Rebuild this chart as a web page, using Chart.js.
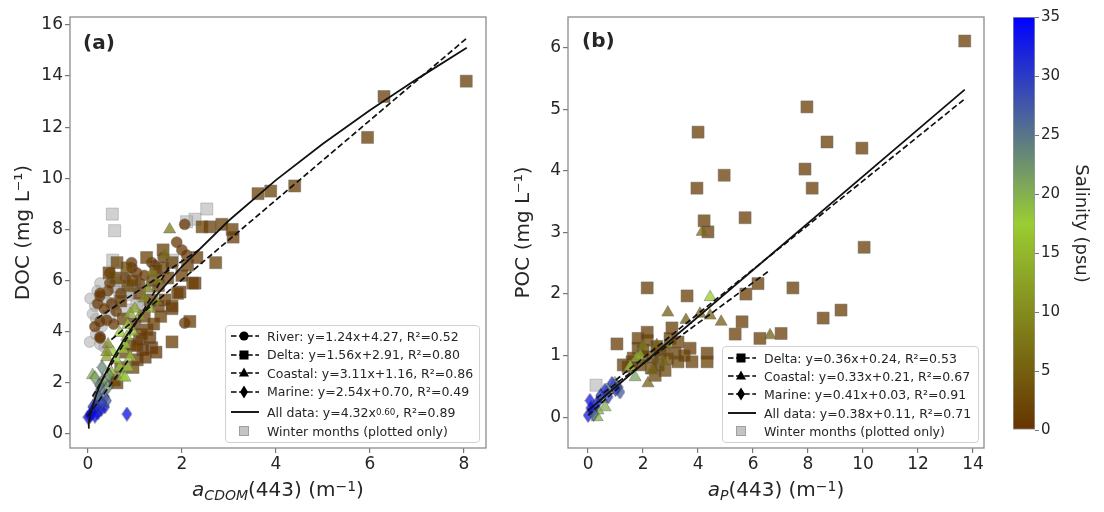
<!DOCTYPE html>
<html>
<head>
<meta charset="utf-8">
<script src="https://cdn.jsdelivr.net/npm/chart.js@4.4.1/dist/chart.umd.min.js"></script>
<style>
  body { margin: 0; background: #fff; }
  #wrap { position: relative; width: 1104px; height: 512px; font-family: "DejaVu Sans", sans-serif; color: #262626; overflow: hidden; }
  #wrap canvas { position: absolute; top: 0; }
  .tag { position: absolute; font-weight: bold; font-size: 20px; line-height: 20px; }
  .xtitle { position: absolute; top: 477px; font-size: 20px; line-height: 24px; text-align: center; white-space: nowrap; }
  .xtitle sub { font-size: 14px; vertical-align: -4px; line-height: 0; }
  .xtitle sup, .legend sup { font-size: 70%; vertical-align: 5px; line-height: 0; }
  .legend { position: absolute; border: 1px solid #d2d2d2; border-radius: 4px; background: rgba(255,255,255,.85); font-size: 12.5px; box-sizing: border-box; }
  .legend .row { position: absolute; left: 4px; height: 18px; display: flex; align-items: center; white-space: nowrap; }
  .legend svg { width: 30px; height: 18px; margin-right: 7px; flex: none; }
</style>
</head>
<body>
<div id="wrap">
  <canvas id="chartA" width="500" height="512" style="left:0"></canvas>
  <canvas id="chartB" width="500" height="512" style="left:500px"></canvas>
  <canvas id="chartC" width="104" height="512" style="left:1000px"></canvas>

  <div class="tag" style="left:83px;top:32px">(a)</div>
  <div class="tag" style="left:582px;top:30px">(b)</div>

  <div class="xtitle" style="left:70px;width:416px"><i>a</i><sub><i>CDOM</i></sub>(443) (m<sup>−1</sup>)</div>
  <div class="xtitle" style="left:568px;width:416px"><i>a</i><sub><i>P</i></sub>(443) (m<sup>−1</sup>)</div>

  <div class="legend" style="left:225px;top:325px;width:255px;height:118px">
    <div class="row" style="top:1px"><svg viewBox="0 0 30 18"><line x1="1" y1="9" x2="29" y2="9" stroke="#000" stroke-width="1.6" stroke-dasharray="5.5 2.6"/><circle cx="14" cy="9" r="4.6"/></svg>River: y=1.24x+4.27, R²=0.52</div>
    <div class="row" style="top:19.5px"><svg viewBox="0 0 30 18"><line x1="1" y1="9" x2="29" y2="9" stroke="#000" stroke-width="1.6" stroke-dasharray="5.5 2.6"/><rect x="9.5" y="4.5" width="9" height="9"/></svg>Delta: y=1.56x+2.91, R²=0.80</div>
    <div class="row" style="top:38px"><svg viewBox="0 0 30 18"><line x1="1" y1="9" x2="29" y2="9" stroke="#000" stroke-width="1.6" stroke-dasharray="5.5 2.6"/><polygon points="14,3.5 19,12.5 9,12.5"/></svg>Coastal: y=3.11x+1.16, R²=0.86</div>
    <div class="row" style="top:56.5px"><svg viewBox="0 0 30 18"><line x1="1" y1="9" x2="29" y2="9" stroke="#000" stroke-width="1.6" stroke-dasharray="5.5 2.6"/><polygon points="14,2.5 18,9 14,15.5 10,9"/></svg>Marine: y=2.54x+0.70, R²=0.49</div>
    <div class="row" style="top:77px"><svg viewBox="0 0 30 18"><line x1="1" y1="9" x2="29" y2="9" stroke="#000" stroke-width="1.8"/></svg>All data: y=4.32x<sup>0.60</sup>, R²=0.89</div>
    <div class="row" style="top:96px"><svg viewBox="0 0 30 18"><rect x="9.5" y="4.5" width="9" height="9" fill="#c4c4c4" stroke="#a0a0a0" stroke-width="1"/></svg>Winter months (plotted only)</div>
  </div>

  <div class="legend" style="left:722px;top:346px;width:257px;height:97px">
    <div class="row" style="top:2px"><svg viewBox="0 0 30 18"><line x1="1" y1="9" x2="29" y2="9" stroke="#000" stroke-width="1.6" stroke-dasharray="5.5 2.6"/><rect x="9.5" y="4.5" width="9" height="9"/></svg>Delta: y=0.36x+0.24, R²=0.53</div>
    <div class="row" style="top:20px"><svg viewBox="0 0 30 18"><line x1="1" y1="9" x2="29" y2="9" stroke="#000" stroke-width="1.6" stroke-dasharray="5.5 2.6"/><polygon points="14,3.5 19,12.5 9,12.5"/></svg>Coastal: y=0.33x+0.21, R²=0.67</div>
    <div class="row" style="top:38px"><svg viewBox="0 0 30 18"><line x1="1" y1="9" x2="29" y2="9" stroke="#000" stroke-width="1.6" stroke-dasharray="5.5 2.6"/><polygon points="14,2.5 18,9 14,15.5 10,9"/></svg>Marine: y=0.41x+0.03, R²=0.91</div>
    <div class="row" style="top:57px"><svg viewBox="0 0 30 18"><line x1="1" y1="9" x2="29" y2="9" stroke="#000" stroke-width="1.8"/></svg>All data: y=0.38x+0.11, R²=0.71</div>
    <div class="row" style="top:75px"><svg viewBox="0 0 30 18"><rect x="9.5" y="4.5" width="9" height="9" fill="#c4c4c4" stroke="#a0a0a0" stroke-width="1"/></svg>Winter months (plotted only)</div>
  </div>
</div>

<script>
// ---- axis ticks ----
const ticksXA = [0, 2, 4, 6, 8];
const ticksYA = [0, 2, 4, 6, 8, 10, 12, 14, 16];
const ticksXB = [0, 2, 4, 6, 8, 10, 12, 14];
const ticksYB = [0, 1, 2, 3, 4, 5, 6];
const ticksSal = [0, 5, 10, 15, 20, 25, 30, 35];

// ---- salinity colour map ----
const salStops = [0, 17.5, 35];
const salColors = [[102, 51, 0], [154, 205, 50], [0, 0, 255]];

// ---- panel (a): DOC vs aCDOM(443) ----
const riverAX = [2.06, 1.89, 2.0, 2.1, 0.93, 1.04, 0.94, 1.36, 1.42, 0.26, 0.21, 0.43, 0.51, 0.40, 0.26, 2.06, 0.47, 0.47, 0.26, 0.26, 0.26, 0.35, 0.6, 0.7, 1.1, 1.2, 1.6, 0.55, 0.8, 0.15];
const riverAY = [8.2, 7.5, 7.2, 7.0, 6.7, 6.3, 6.5, 6.7, 6.6, 5.4, 5.1, 5.6, 5.1, 4.45, 3.8, 4.34, 6.3, 5.9, 5.5, 4.4, 3.75, 4.9, 4.8, 5.5, 5.9, 6.2, 6.9, 4.3, 6.1, 4.2];
const riverAS = [0.3, 0.3, 0.3, 0.5, 0.2, 0.3, 0.3, 0.4, 0.3, 0.2, 0.2, 0.3, 0.3, 0.3, 0.2, 0.5, 0.3, 0.2, 0.2, 0.2, 0.2, 0.3, 0.5, 0.4, 0.4, 0.4, 0.5, 0.3, 0.3, 0.2];

const deltaAX = [8.05, 6.30, 5.95, 4.40, 3.89, 3.62, 3.07, 3.09, 2.85, 2.60, 2.43, 2.72, 2.28, 1.96, 1.79, 1.79, 2.17, 1.36, 1.17, 1.10, 1.32, 1.26, 1.00, 0.96, 0.62, 0.57, 1.91, 1.79, 1.64, 1.60, 1.79, 1.60, 2.12, 2.32, 2.23, 1.32, 1.10, 1.38, 1.50, 1.20, 1.40, 0.80, 0.90, 1.05, 0.70, 1.45, 1.70, 0.85, 0.60, 0.62, 0.75, 1.15, 1.50, 2.00, 1.25, 0.95, 0.83, 0.70, 1.55, 0.45, 1.22, 1.45, 1.05];
const deltaAY = [13.8, 13.2, 11.6, 9.7, 9.5, 9.4, 8.0, 7.7, 8.2, 8.1, 8.1, 6.7, 5.9, 5.55, 4.9, 3.6, 4.4, 3.37, 3.3, 3.7, 3.76, 4.07, 4.3, 2.6, 2.0, 2.1, 5.5, 5.0, 5.24, 7.2, 6.7, 6.5, 6.6, 6.9, 5.9, 5.24, 5.5, 6.0, 5.8, 4.6, 4.3, 3.2, 3.5, 2.9, 2.6, 6.4, 6.1, 5.8, 6.1, 6.7, 4.5, 3.9, 5.0, 6.2, 6.9, 6.0, 6.5, 5.2, 4.6, 6.3, 3.0, 3.2, 3.45];
const deltaAS = [1, 1, 1, 1, 1.5, 1.5, 1, 1, 1, 1, 1.5, 1.5, 0.5, 0.5, 1, 1, 1, 0.5, 0.5, 0.5, 0.5, 1, 1, 2, 1.5, 2, 1, 1, 1, 1.5, 1.5, 1.5, 1, 1, 1, 1, 1, 2, 2, 1.5, 1, 2, 1.5, 1, 2, 1, 1, 2, 2, 2, 1.5, 1, 1, 1, 1.5, 1.5, 2, 1.5, 1, 1.5, 0.5, 0.5, 1];

const coastalAX = [1.74, 1.64, 1.36, 1.26, 1.32, 0.9, 0.68, 0.85, 0.74, 0.43, 0.68, 0.74, 0.10, 0.40, 0.79, 0.83, 0.53, 0.85, 0.79, 1.1, 0.40, 1.5, 1.2, 1.0, 0.6, 0.9, 1.45, 0.5, 0.3, 0.95];
const coastalAY = [8.0, 7.0, 6.3, 5.7, 4.9, 4.7, 3.95, 4.26, 3.3, 3.5, 2.6, 2.23, 2.3, 3.0, 3.5, 3.8, 3.2, 2.6, 2.2, 4.6, 3.2, 6.0, 5.3, 4.9, 2.9, 3.0, 5.2, 2.4, 2.0, 4.0];
const coastalAS = [8, 7, 8, 10, 14, 15, 17, 16, 17, 10, 18, 18, 20, 12, 17, 17, 17, 18, 17, 12, 10, 8, 10, 13, 16, 16, 9, 15, 18, 15];

const marineAX = [0.15, 0.30, 0.32, 0.43, 0.26, 0.36, 0.21, 0.10, 0.08, 0.0, 0.21, 0.36, 0.83, 0.05, 0.12, 0.28, 0.18, 0.40, 0.25, 0.05, 0.15, 0.45, 0.20, 0.30];
const marineAY = [2.2, 2.6, 2.1, 1.85, 1.72, 1.45, 1.33, 1.06, 0.82, 0.66, 0.82, 1.06, 0.78, 0.7, 0.95, 0.95, 1.1, 1.3, 1.9, 0.75, 0.7, 2.3, 1.5, 1.2];
const marineAS = [21, 23, 22, 23, 25, 26, 27, 32, 33, 34, 34, 33, 34, 34, 33, 33, 31, 27, 24, 35, 34, 22, 25, 29];

const winterCircAX = [0.04, 0.26, 0.15, 0.17, 0.17, 0.26, 0.10, 0.30, 0.05, 0.20, 0.35, 0.40];
const winterCircAY = [3.6, 5.9, 5.0, 4.5, 3.9, 3.5, 4.7, 4.2, 5.3, 5.6, 3.4, 5.2];
const winterSqAX = [0.52, 0.57, 2.53, 2.28, 2.10, 0.53, 0.60, 0.90, 1.04, 0.68, 0.53, 0.83, 1.38, 1.17, 0.55, 0.83, 1.80, 0.70, 1.00, 0.45];
const winterSqAY = [8.6, 7.95, 8.8, 8.4, 8.3, 6.8, 5.75, 5.55, 5.1, 5.35, 5.1, 4.85, 5.75, 5.1, 5.9, 5.45, 6.8, 6.0, 5.8, 4.6];

// fitted lines (a), end points
const fitRiverAX = [0.2, 2.4], fitRiverAY = [4.52, 7.25];
const fitDeltaAX = [0.5, 8.06], fitDeltaAY = [3.69, 15.48];
const fitCoastalAX = [0.1, 1.75], fitCoastalAY = [1.47, 6.6];
const fitMarineAX = [0.0, 0.85], fitMarineAY = [0.7, 2.86];
const fitAllAX = [0.008, 0.02, 0.05, 0.1, 0.2, 0.3, 0.5, 0.75, 1, 1.5, 2, 3, 4, 5, 6, 7, 8.06];
const fitAllAY = [0.24, 0.41, 0.72, 1.09, 1.65, 2.1, 2.85, 3.64, 4.32, 5.51, 6.55, 8.35, 9.93, 11.35, 12.66, 13.88, 15.11];

// ---- panel (b): POC vs aP(443) ----
const deltaBX = [13.7, 7.96, 4.0, 8.69, 9.96, 7.89, 4.95, 3.96, 8.15, 5.71, 4.22, 4.36, 10.04, 2.15, 3.6, 5.74, 6.18, 7.45, 8.55, 9.2, 5.6, 5.35, 6.25, 7.02, 3.71, 4.33, 4.33, 3.78, 3.05, 1.05, 2.15, 1.28, 1.6, 1.82, 1.96, 2.33, 2.62, 3.16, 3.27, 2.55, 2.8, 2.44, 2.0, 1.82, 2.15, 2.98, 3.27, 2.73, 1.64, 1.45, 2.9, 2.3, 3.5, 2.5, 1.9];
const deltaBY = [6.11, 5.04, 4.63, 4.47, 4.37, 4.03, 3.93, 3.72, 3.72, 3.24, 3.19, 3.01, 2.76, 2.1, 1.97, 2.0, 2.17, 2.1, 1.61, 1.74, 1.55, 1.35, 1.28, 1.36, 1.12, 1.04, 0.9, 0.9, 1.45, 1.19, 1.38, 0.85, 0.9, 1.12, 0.98, 0.98, 1.04, 1.04, 0.9, 0.85, 0.76, 0.68, 1.09, 1.28, 1.25, 1.28, 1.22, 1.09, 0.96, 0.82, 0.95, 0.8, 1.0, 1.15, 0.85];
const deltaBS = [1, 1, 1, 1, 1, 1, 1, 1, 1, 1, 1, 1, 1, 1, 1, 1, 1, 1, 1, 1, 1, 1, 1, 1, 1, 1, 1.5, 1.5, 1, 1, 1, 1.5, 1.5, 1.5, 2, 2, 1.5, 1.5, 2, 2, 2, 2, 1.5, 1.5, 1.5, 1.5, 1.5, 2, 1.5, 1.5, 2, 2, 1.5, 1.5, 1.5];

const coastalBX = [4.44, 2.9, 3.56, 4.07, 4.44, 4.84, 6.62, 2.18, 2.5, 4.15, 1.78, 1.53, 1.71, 0.98, 0.62, 0.36, 0.33, 0.73, 2.33, 2.73, 2.87, 1.9, 2.0, 0.5];
const coastalBY = [1.95, 1.7, 1.58, 1.68, 1.65, 1.55, 1.33, 0.55, 1.17, 3.01, 0.96, 0.82, 0.65, 0.55, 0.16, 0.11, 0.0, 0.44, 0.76, 0.9, 1.17, 1.0, 1.15, 0.3];
const coastalBS = [17, 5, 5, 5, 5, 5, 5, 5, 5, 6, 15, 17, 21, 20, 20, 20, 20, 19, 6, 6, 6, 14, 8, 19];

const marineBX = [0.07, 0.15, 0.0, 0.62, 0.87, 1.09, 1.16, 0.73, 0.33, 0.2, 0.45, 1.0, 0.1];
const marineBY = [0.27, 0.11, 0.03, 0.44, 0.55, 0.49, 0.41, 0.33, 0.23, 0.05, 0.35, 0.45, 0.15];
const marineBS = [33, 32, 33, 32, 31, 28, 27, 30, 33, 25, 31, 30, 34];

const winterSqBX = [0.29];
const winterSqBY = [0.52];

// fitted lines (b)
const fitDeltaBX = [1.0, 13.7], fitDeltaBY = [0.6, 5.17];
const fitCoastalBX = [0.3, 6.62], fitCoastalBY = [0.31, 2.39];
const fitMarineBX = [0.0, 1.2], fitMarineBY = [0.03, 0.52];
const fitAllBX = [0.0, 13.7], fitAllBY = [0.11, 5.32];

Chart.defaults.font.family = '"DejaVu Sans", sans-serif';
Chart.defaults.color = "#262626";

const EDGE = "rgba(105,105,105,0.6)";
const EDGE_MARINE = "rgba(40,40,70,0.7)";
const WINTER = "rgba(172,172,172,0.55)";

function salColor(s, a) {
  let i = 0;
  while (i < salStops.length - 2 && s > salStops[i + 1]) i++;
  const t = Math.min(1, Math.max(0, (s - salStops[i]) / (salStops[i + 1] - salStops[i])));
  const c = salColors[i].map((v, k) => Math.round(v + t * (salColors[i + 1][k] - v)));
  return `rgba(${c[0]},${c[1]},${c[2]},${a})`;
}

const diamondCache = {};
function diamond(color) {
  if (diamondCache[color]) return diamondCache[color];
  const c = document.createElement("canvas");
  c.width = 11;
  c.height = 15;
  const g = c.getContext("2d");
  g.beginPath();
  g.moveTo(5.5, 0.6);
  g.lineTo(10.2, 7.5);
  g.lineTo(5.5, 14.4);
  g.lineTo(0.8, 7.5);
  g.closePath();
  g.fillStyle = color;
  g.fill();
  g.strokeStyle = EDGE_MARINE;
  g.lineWidth = 0.8;
  g.stroke();
  diamondCache[color] = c;
  return c;
}

function pts(xs, ys) {
  return xs.map((x, i) => ({ x, y: ys[i] }));
}

function scatterSet(xs, ys, sal, style, radius) {
  const fill = sal ? sal.map((s) => salColor(s, 0.75)) : WINTER;
  return {
    data: pts(xs, ys),
    pointStyle: style === "diamond" ? sal.map((s) => diamond(salColor(s, 0.75))) : style,
    pointRadius: radius,
    backgroundColor: fill,
    borderColor: sal ? EDGE : "rgba(140,140,140,0.55)",
    borderWidth: 0.8,
  };
}

function fitSet(xs, ys, dashed) {
  return {
    data: pts(xs, ys),
    showLine: true,
    borderColor: "#111",
    borderWidth: dashed ? 1.7 : 1.8,
    borderDash: dashed ? [6, 3] : [],
    pointRadius: 0,
    fill: false,
  };
}

const framePlugin = {
  id: "frame",
  afterDraw(chart) {
    const { ctx, chartArea: a } = chart;
    ctx.save();
    ctx.strokeStyle = "#8c8c8c";
    ctx.lineWidth = 1.3;
    ctx.strokeRect(a.left, a.top, a.right - a.left, a.bottom - a.top);
    ctx.restore();
  },
};

function panelOptions(xr, yr, xt, yt, yTitle, yWidth, rightPad) {
  const tickFont = { size: 17 };
  const grid = { display: true, drawOnChartArea: false, drawTicks: true, tickLength: 5, color: "#777", lineWidth: 1.2 };
  return {
    responsive: false,
    animation: false,
    events: [],
    layout: { padding: { top: 17, right: rightPad, left: 0, bottom: 0 } },
    plugins: { legend: { display: false }, tooltip: { enabled: false } },
    scales: {
      x: {
        type: "linear",
        min: xr[0],
        max: xr[1],
        afterBuildTicks: (s) => { s.ticks = xt.map((v) => ({ value: v })); },
        afterFit: (s) => { s.height = 64; },
        ticks: { font: tickFont, padding: 1, color: "#262626" },
        grid,
        border: { display: false },
      },
      y: {
        type: "linear",
        min: yr[0],
        max: yr[1],
        afterBuildTicks: (s) => { s.ticks = yt.map((v) => ({ value: v })); },
        afterFit: (s) => { s.width = yWidth; },
        ticks: { font: tickFont, padding: 2, color: "#262626" },
        grid,
        border: { display: false },
        title: { display: true, text: yTitle, font: { size: 20 }, padding: { top: 12, bottom: 0 }, color: "#262626" },
      },
    },
  };
}

new Chart(document.getElementById("chartA"), {
  type: "scatter",
  data: {
    datasets: [
      fitSet(fitAllAX, fitAllAY, false),
      fitSet(fitRiverAX, fitRiverAY, true),
      fitSet(fitDeltaAX, fitDeltaAY, true),
      fitSet(fitCoastalAX, fitCoastalAY, true),
      fitSet(fitMarineAX, fitMarineAY, true),
      scatterSet(marineAX, marineAY, marineAS, "diamond", 7),
      scatterSet(coastalAX, coastalAY, coastalAS, "triangle", 7),
      scatterSet(deltaAX, deltaAY, deltaAS, "rect", 8.5),
      scatterSet(riverAX, riverAY, riverAS, "circle", 5.5),
      scatterSet(winterSqAX, winterSqAY, null, "rect", 8.5),
      scatterSet(winterCircAX, winterCircAY, null, "circle", 5.5),
    ],
  },
  options: panelOptions([-0.38, 8.47], [-0.55, 16.31], ticksXA, ticksYA, "DOC (mg L⁻¹)", 70, 14),
  plugins: [framePlugin],
});

new Chart(document.getElementById("chartB"), {
  type: "scatter",
  data: {
    datasets: [
      fitSet(fitAllBX, fitAllBY, false),
      fitSet(fitDeltaBX, fitDeltaBY, true),
      fitSet(fitCoastalBX, fitCoastalBY, true),
      fitSet(fitMarineBX, fitMarineBY, true),
      scatterSet(marineBX, marineBY, marineBS, "diamond", 7),
      scatterSet(coastalBX, coastalBY, coastalBS, "triangle", 7),
      scatterSet(deltaBX, deltaBY, deltaBS, "rect", 8.5),
      scatterSet(winterSqBX, winterSqBY, null, "rect", 8.5),
    ],
  },
  options: panelOptions([-0.73, 14.4], [-0.5, 6.5], ticksXB, ticksYB, "POC (mg L⁻¹)", 68, 16),
  plugins: [framePlugin],
});

// colour bar
new Chart(document.getElementById("chartC"), {
  type: "bar",
  data: {
    labels: ["salinity"],
    datasets: [{
      data: [[ticksSal[0], ticksSal[ticksSal.length - 1]]],
      backgroundColor: (ctx) => {
        const area = ctx.chart.chartArea;
        if (!area) return "#888";
        const g = ctx.chart.ctx.createLinearGradient(0, area.bottom, 0, area.top);
        const top = salStops[salStops.length - 1];
        salStops.forEach((s) => g.addColorStop(s / top, salColor(s, 1)));
        return g;
      },
      borderColor: "#9a9a9a",
      borderWidth: 1,
      borderSkipped: false,
      barPercentage: 1,
      categoryPercentage: 1,
    }],
  },
  options: {
    responsive: false,
    animation: false,
    events: [],
    layout: { padding: { top: 17, left: 13, right: 0, bottom: 82 } },
    plugins: { legend: { display: false }, tooltip: { enabled: false } },
    scales: {
      x: { display: false },
      y: {
        position: "right",
        min: 0,
        max: 35,
        afterBuildTicks: (s) => { s.ticks = ticksSal.map((v) => ({ value: v })); },
        afterFit: (s) => { s.width = 69; },
        ticks: { font: { size: 15 }, padding: 2, color: "#262626" },
        grid: { display: true, drawOnChartArea: false, tickLength: 4, color: "#777" },
        border: { display: false },
        title: { display: true, text: "Salinity (psu)", font: { size: 18 }, padding: { top: 13, bottom: 0 }, color: "#262626" },
      },
    },
  },
});
</script>
</body>
</html>
